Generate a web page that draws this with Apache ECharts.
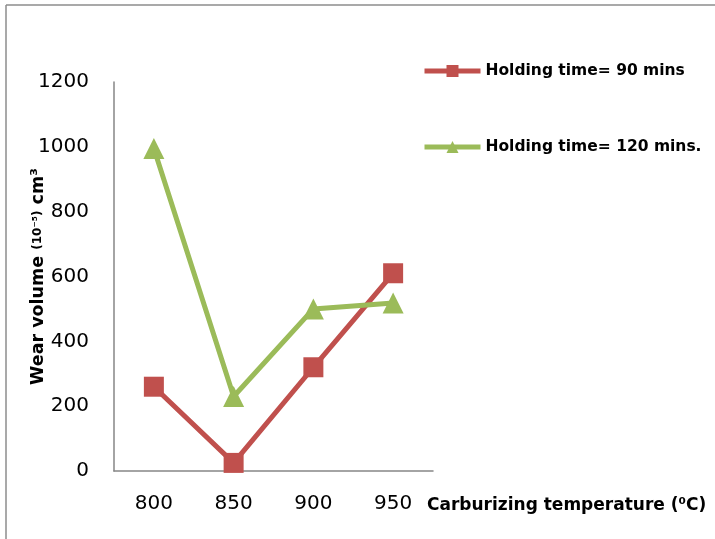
<!DOCTYPE html>
<html>
<head>
<meta charset="utf-8">
<script src="https://cdn.jsdelivr.net/npm/echarts@6/dist/echarts.min.js"></script>
<style>html,body{margin:0;padding:0;background:#fff}#c{width:715px;height:539px}</style>
</head>
<body>
<div id="c"></div>
<script>
const categories = ['800', '850', '900', '950'];
const holding90 = [260, 25, 320, 610];
const holding120 = [995, 230, 500, 518];
const seriesNames = ['Holding time= 90 mins', 'Holding time= 120 mins.'];
const yTicks = { min: 0, max: 1200, interval: 200 };

const chart = echarts.init(document.getElementById('c'));
const axisColor = '#868686';
chart.setOption({
  animation: false,
  backgroundColor: '#fff',
  grid: { left: 114, right: 282, top: 82, bottom: 68, containLabel: false },
  legend: {
    orient: 'vertical', left: 422, top: 63, itemGap: 60, padding: 0,
    itemWidth: 56, itemHeight: 15,
    lineStyle: { width: 5 },
    textStyle: { fontFamily: 'DejaVu Sans', fontWeight: 'bold', fontSize: 15.5, color: '#000' },
    data: seriesNames
  },
  xAxis: {
    type: 'category', data: categories, boundaryGap: true,
    axisLine: { lineStyle: { color: axisColor, width: 1.5 } },
    axisTick: { show: false },
    axisLabel: { fontFamily: 'DejaVu Sans', fontSize: 20, color: '#000', margin: 23 }
  },
  yAxis: {
    type: 'value', min: yTicks.min, max: yTicks.max, interval: yTicks.interval,
    splitLine: { show: false },
    axisLine: { show: true, lineStyle: { color: axisColor, width: 1.5 } },
    axisTick: { show: false },
    axisLabel: { fontFamily: 'DejaVu Sans', fontSize: 20, color: '#000', margin: 25,
      formatter: function (v) { return String(v); } },
    name: '{a|Wear volume }{b|(10⁻⁵)}{a| cm³}',
    nameLocation: 'middle', nameGap: 67, nameMoveOverlap: false,
    nameTextStyle: {
      fontFamily: 'DejaVu Sans', fontWeight: 'bold', fontSize: 17.5, color: '#000',
      rich: {
        a: { fontFamily: 'DejaVu Sans', fontWeight: 'bold', fontSize: 17.5, color: '#000' },
        b: { fontFamily: 'DejaVu Sans', fontWeight: 'bold', fontSize: 12, color: '#000' }
      }
    }
  },
  graphic: [
    { type: 'line', shape: { x1: 6, y1: 5, x2: 715, y2: 5 }, style: { stroke: '#8c8c8c', lineWidth: 1.5 } },
    { type: 'line', shape: { x1: 6, y1: 5, x2: 6, y2: 539 }, style: { stroke: '#8c8c8c', lineWidth: 1.5 } },
    { type: 'text', left: 427, top: 497,
      style: { text: 'Carburizing temperature (⁰C)', fontFamily: 'DejaVu Sans', fontWeight: 'bold', fontSize: 17, fill: '#000' } }
  ],
  series: [
    { name: seriesNames[0], type: 'line', data: holding90, symbol: 'rect', symbolSize: 20,
      lineStyle: { color: '#C0504D', width: 5 }, itemStyle: { color: '#C0504D' } },
    { name: seriesNames[1], type: 'line', data: holding120, symbol: 'triangle', symbolSize: 21,
      lineStyle: { color: '#9BBB59', width: 5 }, itemStyle: { color: '#9BBB59' } }
  ]
});
</script>
</body>
</html>
